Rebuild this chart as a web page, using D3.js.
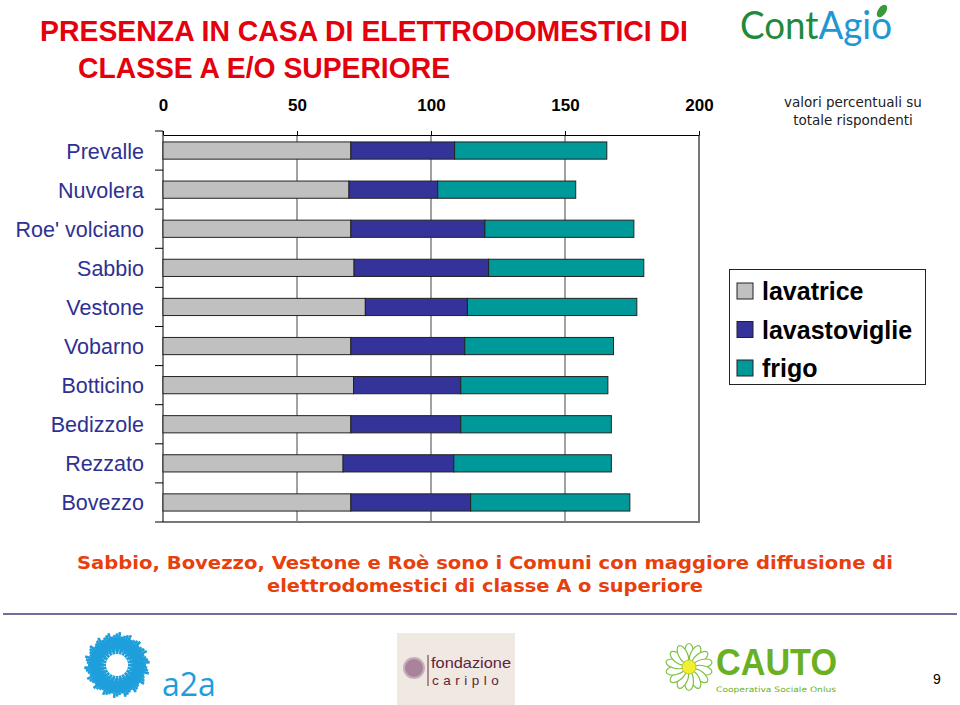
<!DOCTYPE html>
<html>
<head>
<meta charset="utf-8">
<script src="https://cdn.jsdelivr.net/npm/d3@7"></script>
<style>
  body { margin: 0; background: #fff; }
  svg { display: block; }
</style>
</head>
<body>
<svg id="chart" width="960" height="705"></svg>
<script>
// Data
const comuni = ["Prevalle", "Nuvolera", "Roe' volciano", "Sabbio", "Vestone",
                "Vobarno", "Botticino", "Bedizzole", "Rezzato", "Bovezzo"];
const lavatrice     = [70.1, 69.4, 70.1, 71.3, 75.5, 70.1, 71.1, 70.1, 67.2, 70.1];
const lavastoviglie = [38.7, 33.1, 50.0, 50.2, 38.1, 42.5, 40.0, 41.0, 41.3, 44.7];
const frigo         = [56.8, 51.5, 55.6, 57.9, 63.2, 55.5, 54.9, 56.2, 58.8, 59.4];
const seriesNames = ["lavatrice", "lavastoviglie", "frigo"];
const xTicks = [0, 50, 100, 150, 200];

// Colours
const GRAY = "#c0c0c0";
const NAVY = "#333399";
const TEAL = "#009999";
const colors = [GRAY, NAVY, TEAL];

const svg = d3.select("#chart");

// Plot area
const plotLeft = 163, plotRight = 699, plotTop = 135, plotBottom = 522;
const bandTop = 131;

const x = d3.scaleLinear().domain([0, 200]).range([plotLeft, plotRight]);
const y = d3.scaleBand().domain(comuni).range([bandTop, plotBottom])
    .paddingInner(0.56).paddingOuter(0.28);

// build the stacked table
const table = comuni.map((c, i) => ({
  comune: c, lavatrice: lavatrice[i], lavastoviglie: lavastoviglie[i], frigo: frigo[i]
}));
const stacked = d3.stack().keys(seriesNames)(table);

// Title
const title = svg.append("g")
    .attr("font-family", "'Liberation Sans Narrow', 'Arial Narrow', 'Liberation Sans', Arial, sans-serif")
    .attr("font-weight", "bold")
    .attr("font-size", 30)
    .attr("fill", "#e5000e");
title.append("text").attr("x", 40).attr("y", 41)
    .attr("textLength", 648).attr("lengthAdjust", "spacingAndGlyphs")
    .text("PRESENZA IN CASA DI ELETTRODOMESTICI DI");
title.append("text").attr("x", 78).attr("y", 78)
    .attr("textLength", 372).attr("lengthAdjust", "spacingAndGlyphs")
    .text("CLASSE A E/O SUPERIORE");

// ContAgio logo (as text)
const logo = svg.append("text").attr("x", 740).attr("y", 39)
    .attr("font-family", "Lato, 'Open Sans', sans-serif")
    .attr("font-size", 38)
    .attr("textLength", 152).attr("lengthAdjust", "spacingAndGlyphs");
logo.append("tspan").attr("fill", "#1f8a3b").text("Cont");
logo.append("tspan").attr("fill", "#2196d3").text("Agio");
svg.append("ellipse").attr("cx", 882).attr("cy", 11).attr("rx", 4).attr("ry", 7)
    .attr("transform", "rotate(35 882 11)").attr("fill", "#3a9a3a");

// Note
svg.append("g")
    .attr("font-family", "'DejaVu Sans', Verdana, sans-serif")
    .attr("font-size", 13.5).attr("fill", "#222").attr("text-anchor", "middle")
  .selectAll("text").data(["valori percentuali su", "totale rispondenti"])
  .join("text")
    .attr("x", 853).attr("y", (d, i) => 107 + i * 18)
    .text(d => d);

// Gridlines
svg.append("g").selectAll("line").data(xTicks.filter(d => d > 0 && d < 200))
  .join("line")
    .attr("x1", d => x(d)).attr("x2", d => x(d))
    .attr("y1", plotTop).attr("y2", plotBottom)
    .attr("stroke", "#444").attr("stroke-width", 1);

// Plot frame right/bottom (gray)
svg.append("line").attr("x1", plotRight).attr("x2", plotRight).attr("y1", plotTop).attr("y2", plotBottom + 1)
    .attr("stroke", "#777").attr("stroke-width", 2);
svg.append("line").attr("x1", plotLeft).attr("x2", plotRight + 1).attr("y1", plotBottom).attr("y2", plotBottom)
    .attr("stroke", "#777").attr("stroke-width", 2);

// Top axis
const xAxis = svg.append("g")
    .attr("transform", `translate(0,${plotTop})`)
    .call(d3.axisTop(x).tickValues(xTicks).tickSize(4).tickPadding(20).tickSizeOuter(0));
xAxis.select(".domain").attr("stroke", "#000");
xAxis.selectAll(".tick line").attr("stroke", "#000");
xAxis.selectAll("text")
    .attr("font-family", "'Liberation Sans', Arial, sans-serif")
    .attr("font-size", 17).attr("font-weight", "bold").attr("fill", "#000");

// Left axis line + ticks at band boundaries
const boundaries = d3.range(comuni.length + 1)
    .map(i => bandTop + i * y.step());
svg.append("line").attr("x1", plotLeft).attr("x2", plotLeft).attr("y1", bandTop).attr("y2", plotBottom)
    .attr("stroke", "#000");
svg.append("g").selectAll("line").data(boundaries).join("line")
    .attr("x1", plotLeft - 8).attr("x2", plotLeft)
    .attr("y1", d => d).attr("y2", d => d)
    .attr("stroke", "#000");

// Category labels
svg.append("g")
    .attr("font-family", "'Liberation Sans', Arial, sans-serif")
    .attr("font-size", 21.5).attr("fill", "#2e3192").attr("text-anchor", "end")
  .selectAll("text").data(comuni).join("text")
    .attr("x", 144)
    .attr("y", d => y(d) + y.bandwidth() / 2 + 8)
    .text(d => d);

// Bars
svg.append("g").selectAll("g").data(stacked).join("g")
    .attr("fill", (d, i) => colors[i])
  .selectAll("rect").data(d => d).join("rect")
    .attr("x", d => x(d[0]))
    .attr("width", d => x(d[1]) - x(d[0]))
    .attr("y", d => y(d.data.comune))
    .attr("height", y.bandwidth())
    .attr("stroke", "#222").attr("stroke-width", 1);

// Legend
const legend = svg.append("g");
legend.append("rect").attr("x", 729.5).attr("y", 269.5).attr("width", 196).attr("height", 115)
    .attr("fill", "#fff").attr("stroke", "#222");
const li = legend.selectAll("g").data(seriesNames).join("g")
    .attr("transform", (d, i) => `translate(737,${283 + i * 38.5})`);
li.append("rect").attr("width", 16).attr("height", 16)
    .attr("fill", (d, i) => colors[i]).attr("stroke", "#222");
li.append("text").attr("x", 25).attr("y", 17)
    .attr("font-family", "'Liberation Sans', Arial, sans-serif")
    .attr("font-size", 25).attr("font-weight", "bold").attr("fill", "#000")
    .text(d => d);

// Subtitle
const sub = svg.append("g")
    .attr("font-family", "'DejaVu Sans', Verdana, sans-serif")
    .attr("font-weight", "bold").attr("font-size", 18)
    .attr("fill", "#e8400c");
sub.append("text").attr("x", 77).attr("y", 569)
    .attr("textLength", 816).attr("lengthAdjust", "spacingAndGlyphs")
    .text("Sabbio, Bovezzo, Vestone e Roè sono i Comuni con maggiore diffusione di");
sub.append("text").attr("x", 267).attr("y", 592)
    .attr("textLength", 436).attr("lengthAdjust", "spacingAndGlyphs")
    .text("elettrodomestici di classe A o superiore");

// Separator
svg.append("line").attr("x1", 3).attr("x2", 957).attr("y1", 614).attr("y2", 614)
    .attr("stroke", "#6f6f9c").attr("stroke-width", 2);

// a2a logo
const a2a = svg.append("g").attr("transform", "translate(117,665)");
d3.range(72).forEach(i => {
  const a = i / 72 * 2 * Math.PI;
  const r0 = 11 + (i % 3) * 2.5, r1 = 29 + (i % 4) * 1.3;
  a2a.append("line")
      .attr("x1", r0 * Math.cos(a)).attr("y1", r0 * Math.sin(a))
      .attr("x2", r1 * Math.cos(a)).attr("y2", r1 * Math.sin(a))
      .attr("stroke", "#1e9fdc").attr("stroke-width", 2.6);
});
a2a.append("circle").attr("r", 24).attr("fill", "none").attr("stroke", "#1e9fdc").attr("stroke-width", 6);
svg.append("text").attr("x", 162).attr("y", 696)
    .attr("font-family", "'Open Sans', sans-serif").attr("font-size", 32)
    .attr("fill", "#1e9fdc").text("a2a");

// Fondazione Cariplo logo
svg.append("rect").attr("x", 397).attr("y", 633).attr("width", 118).attr("height", 72)
    .attr("fill", "#efe9e2");
svg.append("circle").attr("cx", 414).attr("cy", 668).attr("r", 10)
    .attr("fill", "#a9839a").attr("stroke", "#c7aebd").attr("stroke-width", 2);
svg.append("line").attr("x1", 428).attr("x2", 428).attr("y1", 655).attr("y2", 686)
    .attr("stroke", "#6b2a45");
svg.append("text").attr("x", 431).attr("y", 668)
    .attr("font-family", "'Liberation Sans', Arial, sans-serif").attr("font-size", 14.5)
    .attr("fill", "#5e2340")
    .attr("textLength", 80).attr("lengthAdjust", "spacingAndGlyphs").text("fondazione");
svg.append("text").attr("x", 432).attr("y", 685)
    .attr("font-family", "'Liberation Sans', Arial, sans-serif").attr("font-size", 13.5)
    .attr("letter-spacing", 4.5).attr("fill", "#5e2340").text("cariplo");

// CAUTO logo
const daisy = svg.append("g").attr("transform", "translate(689,667)");
d3.range(14).forEach(i => {
  const a = i / 14 * 360;
  daisy.append("ellipse").attr("cx", 0).attr("cy", -14).attr("rx", 4.5).attr("ry", 9.5)
      .attr("transform", `rotate(${a})`)
      .attr("fill", "#fff").attr("stroke", "#7cc242").attr("stroke-width", 1.2);
});
daisy.append("circle").attr("r", 7).attr("fill", "#f2ee30").attr("stroke", "#b5c93a");
svg.append("text").attr("x", 716).attr("y", 675)
    .attr("font-family", "'Liberation Sans', Arial, sans-serif").attr("font-weight", "bold")
    .attr("font-size", 36).attr("fill", "#6ab023")
    .attr("textLength", 121).attr("lengthAdjust", "spacingAndGlyphs").text("CAUTO");
svg.append("text").attr("x", 716).attr("y", 692)
    .attr("font-family", "'DejaVu Sans', sans-serif").attr("font-size", 7.5)
    .attr("fill", "#6ab023")
    .attr("textLength", 120).attr("lengthAdjust", "spacingAndGlyphs").text("Cooperativa Sociale Onlus");

// Page number
svg.append("text").attr("x", 933).attr("y", 684)
    .attr("font-family", "'Liberation Sans', Arial, sans-serif").attr("font-size", 14)
    .attr("fill", "#000").text("9");
</script>
</body>
</html>
